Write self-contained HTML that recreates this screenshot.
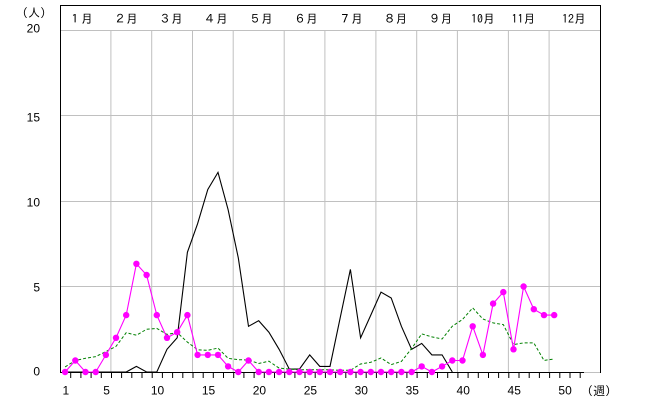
<!DOCTYPE html>
<html>
<head>
<meta charset="utf-8">
<style>
html,body{margin:0;padding:0;background:#fff;}
svg{display:block;}
text{font-family:"Liberation Sans","IPAGothic",sans-serif;fill:#000;}
.j{font-family:"IPAGothic","Noto Sans CJK JP",sans-serif;}
</style>
</head>
<body>
<svg width="652" height="419" viewBox="0 0 652 419" xmlns="http://www.w3.org/2000/svg">
<rect x="0" y="0" width="652" height="419" fill="#fff"/>
<g stroke="#c0c0c0" stroke-width="1" fill="none">
<line x1="60" y1="30.5" x2="601" y2="30.5"/>
<line x1="60" y1="115.5" x2="601" y2="115.5"/>
<line x1="60" y1="201.5" x2="601" y2="201.5"/>
<line x1="60" y1="286.5" x2="601" y2="286.5"/>
<line x1="110.9" y1="30" x2="110.9" y2="372"/>
<line x1="151.7" y1="30" x2="151.7" y2="372"/>
<line x1="192.5" y1="30" x2="192.5" y2="372"/>
<line x1="233.2" y1="30" x2="233.2" y2="372"/>
<line x1="284.2" y1="30" x2="284.2" y2="372"/>
<line x1="324.9" y1="30" x2="324.9" y2="372"/>
<line x1="375.9" y1="30" x2="375.9" y2="372"/>
<line x1="416.7" y1="30" x2="416.7" y2="372"/>
<line x1="457.4" y1="30" x2="457.4" y2="372"/>
<line x1="508.4" y1="30" x2="508.4" y2="372"/>
<line x1="549.1" y1="30" x2="549.1" y2="372"/>
<line x1="584" y1="372.5" x2="601" y2="372.5"/>
</g>
<g stroke="#000" stroke-width="1" fill="none">
<line x1="60.5" y1="5" x2="60.5" y2="373"/>
<line x1="60" y1="5.5" x2="601" y2="5.5"/>
<line x1="600.5" y1="5" x2="600.5" y2="373"/>
<line x1="60" y1="372.5" x2="584" y2="372.5"/>
</g>
<g stroke="#000" stroke-width="1">
<path d="M70.7 372V378M80.9 372V378M91.1 372V378M101.3 372V378M111.5 372V378M121.6 372V378M131.8 372V378M142 372V378M152.2 372V378M162.4 372V378M172.6 372V378M182.8 372V378M193 372V378M203.2 372V378M213.3 372V378M223.5 372V378M233.7 372V378M243.9 372V378M254.1 372V378M264.3 372V378M274.5 372V378M284.7 372V378M294.9 372V378M305 372V378M315.2 372V378M325.4 372V378M335.6 372V378M345.8 372V378M356 372V378M366.2 372V378M376.4 372V378M386.6 372V378M396.8 372V378M406.9 372V378M417.1 372V378M427.3 372V378M437.5 372V378M447.7 372V378M457.9 372V378M468.1 372V378M478.3 372V378M488.5 372V378M498.6 372V378M508.8 372V378M519 372V378M529.2 372V378M539.4 372V378M549.6 372V378M559.8 372V378M570 372V378M580.2 372V378"/>
</g>
<polyline fill="none" stroke="#000" stroke-width="1.1" points="65.1,372 75.3,372 85.5,372 95.7,372 105.9,372 116.0,372 126.2,372 136.4,366.4 146.6,372 156.8,372 167.0,349.3 177.2,337.8 187.4,252.3 197.6,223.7 207.8,189.5 218.0,172.4 228.1,209.6 238.3,257.9 248.5,326.3 258.7,320.7 268.9,332.2 279.1,349.3 289.3,369.1 299.5,369.1 309.7,354.9 319.8,366.4 330.0,366.4 340.2,317.8 350.4,269.4 360.6,337.8 370.8,315.1 381.0,292.1 391.2,298.0 401.4,326.3 411.6,349.3 421.7,343.4 431.9,354.9 442.1,354.9 452.3,372"/>
<polyline fill="none" stroke="#008000" stroke-width="1" stroke-dasharray="3,2" points="65.1,366.9 75.3,360.5 85.5,358.3 95.7,356.6 105.9,351.5 116.0,346.4 126.2,332.7 136.4,335.2 146.6,329.3 156.8,328.4 167.0,334.4 177.2,332.7 187.4,342.1 197.6,349.8 207.8,350.3 218.0,348.1 228.1,358.3 238.3,359.7 248.5,360.0 258.7,363.5 268.9,361.2 279.1,368.1 289.3,369.1 299.5,369.8 309.7,369.8 319.8,369.8 330.0,369.8 340.2,370.3 350.4,370.3 360.6,364.0 370.8,362.3 381.0,358.0 391.2,364.6 401.4,361.4 411.6,348.6 421.7,333.9 431.9,336.9 442.1,339.0 452.3,326.2 462.5,319.5 472.7,307.9 482.9,319.0 493.1,322.9 503.3,324.6 513.5,344.6 523.6,342.9 533.8,342.9 544.0,360.4 554.2,359.0"/>
<polyline fill="none" stroke="#ff00ff" stroke-width="1.1" points="65.1,372 75.3,360.5 85.5,372 95.7,372 105.9,354.9 116.0,337.8 126.2,315.1 136.4,263.8 146.6,275.0 156.8,315.1 167.0,337.8 177.2,332.2 187.4,315.1 197.6,354.9 207.8,354.9 218.0,354.9 228.1,366.4 238.3,372 248.5,360.5 258.7,372 268.9,372 279.1,372 289.3,372 299.5,372 309.7,372 319.8,372 330.0,372 340.2,372 350.4,372 360.6,372 370.8,372 381.0,372 391.2,372 401.4,372 411.6,372 421.7,366.4 431.9,372 442.1,366.4 452.3,360.5 462.5,360.5 472.7,326.3 482.9,354.9 493.1,303.6 503.3,292.1 513.5,349.3 523.6,286.5 533.8,309.2 544.0,315.1 554.2,315.1"/>
<g fill="#ff00ff">
<circle cx="65.1" cy="372" r="3.2"/><circle cx="75.3" cy="360.5" r="3.2"/><circle cx="85.5" cy="372" r="3.2"/><circle cx="95.7" cy="372" r="3.2"/><circle cx="105.9" cy="354.9" r="3.2"/><circle cx="116.0" cy="337.8" r="3.2"/><circle cx="126.2" cy="315.1" r="3.2"/><circle cx="136.4" cy="263.8" r="3.2"/><circle cx="146.6" cy="275.0" r="3.2"/><circle cx="156.8" cy="315.1" r="3.2"/><circle cx="167.0" cy="337.8" r="3.2"/><circle cx="177.2" cy="332.2" r="3.2"/><circle cx="187.4" cy="315.1" r="3.2"/><circle cx="197.6" cy="354.9" r="3.2"/><circle cx="207.8" cy="354.9" r="3.2"/><circle cx="218.0" cy="354.9" r="3.2"/><circle cx="228.1" cy="366.4" r="3.2"/><circle cx="238.3" cy="372" r="3.2"/><circle cx="248.5" cy="360.5" r="3.2"/><circle cx="258.7" cy="372" r="3.2"/><circle cx="268.9" cy="372" r="3.2"/><circle cx="279.1" cy="372" r="3.2"/><circle cx="289.3" cy="372" r="3.2"/><circle cx="299.5" cy="372" r="3.2"/><circle cx="309.7" cy="372" r="3.2"/><circle cx="319.8" cy="372" r="3.2"/><circle cx="330.0" cy="372" r="3.2"/><circle cx="340.2" cy="372" r="3.2"/><circle cx="350.4" cy="372" r="3.2"/><circle cx="360.6" cy="372" r="3.2"/><circle cx="370.8" cy="372" r="3.2"/><circle cx="381.0" cy="372" r="3.2"/><circle cx="391.2" cy="372" r="3.2"/><circle cx="401.4" cy="372" r="3.2"/><circle cx="411.6" cy="372" r="3.2"/><circle cx="421.7" cy="366.4" r="3.2"/><circle cx="431.9" cy="372" r="3.2"/><circle cx="442.1" cy="366.4" r="3.2"/><circle cx="452.3" cy="360.5" r="3.2"/><circle cx="462.5" cy="360.5" r="3.2"/><circle cx="472.7" cy="326.3" r="3.2"/><circle cx="482.9" cy="354.9" r="3.2"/><circle cx="493.1" cy="303.6" r="3.2"/><circle cx="503.3" cy="292.1" r="3.2"/><circle cx="513.5" cy="349.3" r="3.2"/><circle cx="523.6" cy="286.5" r="3.2"/><circle cx="533.8" cy="309.2" r="3.2"/><circle cx="544.0" cy="315.1" r="3.2"/><circle cx="554.2" cy="315.1" r="3.2"/>
</g>
<g font-size="12" text-anchor="middle">
<text class="j" x="81" y="23">１月</text>
<text class="j" x="126" y="23">２月</text>
<text class="j" x="171" y="23">３月</text>
<text class="j" x="216" y="23">４月</text>
<text class="j" x="261" y="23">５月</text>
<text class="j" x="306" y="23">６月</text>
<text class="j" x="351" y="23">７月</text>
<text class="j" x="395.5" y="23">８月</text>
<text class="j" x="440.5" y="23">９月</text>
<text class="j" x="483" y="23">10月</text>
<text class="j" x="523.5" y="23">11月</text>
<text class="j" x="574" y="23">12月</text>
</g>
<text class="j" x="22" y="17" font-size="12">(人)</text>
<g font-size="12" text-anchor="end">
<text x="40" y="32.6">20</text>
<text x="40" y="121.3">15</text>
<text x="40" y="206.3">10</text>
<text x="40" y="291.3">5</text>
<text x="40" y="375.3">0</text>
</g>
<g font-size="12" text-anchor="middle">
<text x="65.8" y="394.3">1</text>
<text x="106.6" y="394.3">5</text>
<text x="157.5" y="394.3">10</text>
<text x="208.5" y="394.3">15</text>
<text x="259.4" y="394.3">20</text>
<text x="310.4" y="394.3">25</text>
<text x="361.3" y="394.3">30</text>
<text x="412.3" y="394.3">35</text>
<text x="463.2" y="394.3">40</text>
<text x="514.2" y="394.3">45</text>
<text x="565.1" y="394.3">50</text>
</g>
<text class="j" x="587" y="395" font-size="12">(週)</text>
</svg>
</body>
</html>
